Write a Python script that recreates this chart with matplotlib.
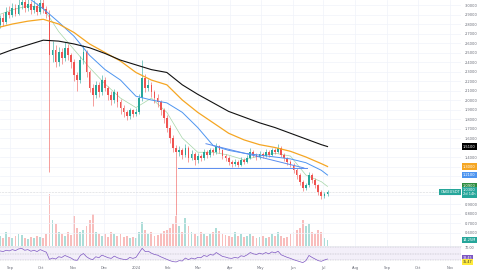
import numpy as np
import pandas as pd
import matplotlib
matplotlib.use('agg')
import matplotlib.pyplot as plt
import matplotlib.dates as mdates
import matplotlib.transforms as mtrans
from matplotlib.ticker import FuncFormatter

# price candles (3-day bars)
first_open = 2.74
close = [2.79, 2.86, 2.82, 2.93, 2.90, 2.97, 2.91, 3.00, 3.03, 2.97,
         3.01, 2.95, 2.99, 2.93, 3.02, 2.96, 2.91, 2.47, 2.53, 2.40,
         2.51, 2.44, 2.55, 2.47, 2.40, 2.26, 2.21, 2.42, 2.51, 2.29,
         2.13, 2.05, 2.16, 2.08, 2.21, 2.13, 2.05, 2.00, 2.08, 1.98,
         1.92, 1.87, 1.83, 1.89, 1.85, 1.87, 2.02, 2.23, 2.13, 2.16,
         2.08, 2.02, 1.98, 1.89, 1.81, 1.71, 1.60, 1.50, 1.45, 1.47,
         1.42, 1.50, 1.39, 1.43, 1.37, 1.41, 1.39, 1.45, 1.42, 1.47,
         1.45, 1.52, 1.47, 1.41, 1.39, 1.35, 1.33, 1.35, 1.32, 1.37,
         1.35, 1.39, 1.45, 1.42, 1.40, 1.43, 1.41, 1.45, 1.42, 1.47,
         1.45, 1.50, 1.42, 1.39, 1.35, 1.32, 1.26, 1.21, 1.14, 1.07,
         1.10, 1.21, 1.16, 1.10, 1.03, 0.99, 1.01, 1.03]
high = [2.84, 2.90, 2.92, 2.98, 2.99, 3.02, 3.01, 3.06, 3.09, 3.08,
        3.07, 3.04, 3.05, 3.02, 3.08, 3.06, 2.99, 2.95, 2.62, 2.58,
        2.56, 2.55, 2.61, 2.59, 2.50, 2.43, 2.30, 2.46, 2.58, 2.53,
        2.32, 2.17, 2.20, 2.19, 2.26, 2.24, 2.15, 2.09, 2.12, 2.10,
        2.01, 1.95, 1.90, 1.92, 1.91, 1.92, 2.06, 2.42, 2.27, 2.22,
        2.19, 2.11, 2.06, 2.00, 1.92, 1.84, 1.74, 1.63, 1.53, 1.52,
        1.50, 1.54, 1.52, 1.47, 1.45, 1.44, 1.43, 1.48, 1.47, 1.50,
        1.49, 1.55, 1.53, 1.48, 1.43, 1.41, 1.37, 1.38, 1.37, 1.40,
        1.39, 1.42, 1.49, 1.47, 1.44, 1.46, 1.45, 1.48, 1.47, 1.50,
        1.49, 1.54, 1.52, 1.44, 1.40, 1.37, 1.34, 1.28, 1.23, 1.16,
        1.13, 1.24, 1.23, 1.18, 1.12, 1.05, 1.03, 1.05]
low = [2.70, 2.76, 2.78, 2.80, 2.86, 2.87, 2.88, 2.89, 2.96, 2.93,
       2.94, 2.91, 2.92, 2.89, 2.91, 2.92, 2.86, 1.24, 2.40, 2.35,
       2.36, 2.38, 2.41, 2.42, 2.34, 2.20, 2.10, 2.18, 2.38, 2.24,
       2.08, 1.94, 2.02, 2.03, 2.05, 2.09, 2.00, 1.95, 1.97, 1.93,
       1.85, 1.82, 1.79, 1.80, 1.82, 1.83, 1.85, 1.99, 2.08, 2.09,
       2.03, 1.97, 1.93, 1.84, 1.76, 1.66, 1.55, 1.45, 0.79, 1.41,
       1.38, 1.40, 1.35, 1.37, 1.32, 1.34, 1.36, 1.37, 1.39, 1.40,
       1.42, 1.43, 1.44, 1.38, 1.36, 1.32, 1.30, 1.31, 1.30, 1.31,
       1.33, 1.34, 1.38, 1.40, 1.37, 1.38, 1.39, 1.40, 1.40, 1.41,
       1.43, 1.44, 1.40, 1.36, 1.32, 1.29, 1.23, 1.17, 1.10, 1.04,
       1.05, 1.08, 1.13, 1.07, 1.00, 0.96, 0.97, 0.99]
volume = [12, 10, 8, 14, 9, 8, 10, 12, 11, 8, 7, 9, 8, 10, 9, 8, 12, 52, 26, 22,
          14, 12, 10, 14, 11, 30, 18, 14, 16, 20, 26, 32, 14, 12, 10, 12, 9, 14, 12, 10,
          12, 9, 10, 8, 9, 8, 14, 24, 16, 12, 14, 10, 11, 13, 15, 16, 18, 22, 30, 20,
          14, 28, 20, 14, 12, 10, 14, 12, 10, 12, 14, 18, 15, 12, 11, 10, 9, 14, 10, 12,
          9, 10, 12, 10, 8, 9, 10, 8, 9, 12, 10, 14, 10, 8, 9, 12, 14, 16, 18, 26,
          20, 22, 14, 12, 16, 14, 8, 6]
rsi = [55, 58, 56, 60, 58, 62, 59, 64, 66, 60, 62, 57, 60, 56, 62, 58, 54, 32, 36, 33,
       40, 38, 44, 40, 36, 30, 29, 44, 50, 40, 34, 31, 40, 37, 45, 41, 37, 35, 42, 37,
       34, 32, 31, 38, 35, 38, 52, 66, 56, 57, 51, 47, 45, 40, 36, 32, 28, 25, 24, 28,
       27, 36, 31, 36, 33, 38, 37, 44, 41, 47, 45, 53, 47, 41, 39, 36, 35, 38, 36, 43,
       41, 46, 53, 49, 47, 51, 48, 53, 49, 55, 52, 57, 46, 42, 38, 35, 31, 28, 25, 22,
       28, 44, 38, 33, 28, 26, 30, 33]

# moving averages sampled every 5th bar plus the last bar
ema200 = [2.47, 2.53, 2.58, 2.63, 2.62, 2.59, 2.55, 2.49, 2.42, 2.37, 2.32, 2.29,
          2.16, 2.06, 1.97, 1.88, 1.82, 1.76, 1.71, 1.65, 1.59, 1.53, 1.51]
ema100 = [2.76, 2.80, 2.83, 2.85, 2.80, 2.71, 2.59, 2.50, 2.41, 2.29, 2.21, 2.16,
          2.00, 1.87, 1.76, 1.65, 1.58, 1.53, 1.50, 1.46, 1.40, 1.33, 1.30]
ema50 = [3.26, 3.18, 3.08, 2.96, 2.82, 2.67, 2.47, 2.32, 2.21, 2.04, 2.00, 1.97,
         1.87, 1.71, 1.52, 1.47, 1.44, 1.42, 1.40, 1.38, 1.34, 1.26, 1.21]
ema20 = [2.89, 2.95, 2.99, 2.97, 2.72, 2.53, 2.34, 2.17, 2.02, 1.92, 2.02, 1.87,
         1.60, 1.45, 1.45, 1.42, 1.37, 1.41, 1.44, 1.41, 1.21, 1.14, 1.09]

tri_upper = [1.54, 1.285]
tri_base = [1.285, 1.285]

price_ticks = np.arange(0.6, 3.05, 0.1)

UP = '#26a69a'
DOWN = '#ef5350'

dates = pd.date_range('2023-08-19', periods=len(close), freq='3D')
ma_idx = list(range(0, len(close), 5)) + [len(close) - 1]
ma_dates = dates[ma_idx]
opens = np.r_[first_open, close[:-1]]
close = np.array(close)
up = close >= opens
cols = np.where(up, UP, DOWN)

fig = plt.figure(figsize=(4.8, 2.7), dpi=100)
W = 461 / 480
vax = fig.add_axes([0, 1 - 246 / 270, W, 246 / 270])
ax = fig.add_axes([0, 1 - 246 / 270, W, 246 / 270], sharex=vax)
rax = fig.add_axes([0, 1 - 264 / 270, W, 18 / 270], sharex=vax)
ax.patch.set_visible(False)

x0 = pd.Timestamp('2023-08-22')
x1 = x0 + pd.Timedelta(days=447.6)

# volume
vax.bar(dates, volume, width=1.8, color=cols, alpha=0.38, linewidth=0)
vax.set_ylim(0, max(volume) * 246 / 52)
vax.set_yticks([])
for s in vax.spines.values():
    s.set_visible(False)
vax.tick_params(axis='x', length=0, labelbottom=False)
vax.xaxis.set_major_locator(mdates.MonthLocator())
vax.grid(axis='x', color='#f0f3fa', lw=0.5)

# candles
ax.vlines(dates, low, high, colors=cols, lw=0.4, zorder=3)
body_lo = np.minimum(opens, close)
body_h = np.maximum(np.abs(close - opens), 0.006)
ax.bar(dates, body_h, bottom=body_lo, width=1.7, color=cols, linewidth=0, zorder=3)

ax.plot(ma_dates, ema20, color='#a5d6a7', lw=0.5, zorder=2)
ax.plot(ma_dates, ema50, color='#4e95f0', lw=0.7, zorder=4)
ax.plot(ma_dates, ema100, color='#f5a623', lw=0.9, zorder=4)
ax.plot(ma_dates, ema200, color='#111111', lw=0.8, zorder=4)

tl_upper = [pd.Timestamp('2024-03-09'), pd.Timestamp('2024-06-12')]
tl_base = [pd.Timestamp('2024-02-11'), pd.Timestamp('2024-06-15')]
ax.plot(tl_upper, tri_upper, color='#5b8def', lw=0.7, zorder=5)
ax.plot(tl_base, tri_base, color='#5b8def', lw=0.7, zorder=5)

ax.axhline(close[-1], color='#b2b5be', lw=0.4, ls=':', zorder=1)

# right-axis tags
tags = [(ema200[-1], '%.4f' % ema200[-1], '#000000', 'white'),
        (ema100[-1], '%.4f' % ema100[-1], '#f5a623', 'white'),
        (ema50[-1], '%.4f' % ema50[-1], '#4e95f0', 'white'),
        (ema20[-1], '%.4f' % ema20[-1], '#2e8b3e', 'white'),
        (close[-1], '%.4f\n2d 14h' % close[-1], UP, 'white')]

# tick labels hidden behind the tags, as on the reference
shown_ticks = [t for t in price_ticks
               if all(abs(t - tv) > 0.045 for tv, _, _, _ in tags) and abs(t - 1.0) > 0.05]

ax.set_xlim(x0, x1)
ax.set_ylim(0.463, 3.053)
ax.yaxis.tick_right()
ax.set_yticks(shown_ticks)
ax.yaxis.set_major_formatter(FuncFormatter(lambda v, p: '%.4f' % v))
ax.tick_params(axis='y', labelsize=2.6, length=0, pad=2.5, colors='#6a6d78')
ax.tick_params(axis='x', length=0, labelbottom=False)
for t in price_ticks:
    ax.axhline(t, color='#f0f3fa', lw=0.5, zorder=0)
for s in ax.spines.values():
    s.set_visible(False)

tr = mtrans.blended_transform_factory(ax.transAxes, ax.transData)
for yv, txt, bg, fg in tags:
    ax.text(1.004, yv, txt, transform=tr, fontsize=2.6, color=fg, va='center', ha='left',
            bbox=dict(boxstyle='square,pad=0.35', fc=bg, ec='none'), zorder=6, clip_on=False)
ax.text(0.998, close[-1], 'CAKEUSDT', transform=tr, fontsize=2.6, color='white', va='center',
        ha='right', bbox=dict(boxstyle='square,pad=0.35', fc=UP, ec='none'), clip_on=False)
vtr = mtrans.blended_transform_factory(vax.transAxes, vax.transData)
vax.text(1.004, volume[-1], '14.25M', transform=vtr, fontsize=2.6, color='white',
         va='center', ha='left', bbox=dict(boxstyle='square,pad=0.35', fc=UP, ec='none'),
         clip_on=False)

# RSI pane
rax.axhspan(30, 70, color='#7e57c2', alpha=0.09, lw=0)
for lv in (70, 50, 30):
    rax.axhline(lv, color='#9598a1', lw=0.3, ls=(0, (2, 2)))
rax.plot(dates, rsi, color='#7e57c2', lw=0.5)
rax.set_ylim(17.7, 73.1)
rax.set_xlim(x0, x1)
rax.yaxis.tick_right()
rax.set_yticks([70])
rax.yaxis.set_major_formatter(FuncFormatter(lambda v, p: '%.2f' % v))
rax.tick_params(axis='y', labelsize=2.4, length=0, pad=2.5, colors='#6a6d78')
rtr = mtrans.blended_transform_factory(rax.transAxes, rax.transData)
rax.text(1.004, rsi[-1] + 3, '%.2f' % (rsi[-1] + 0.45), transform=rtr, fontsize=2.4, color='white',
         va='center', ha='left', bbox=dict(boxstyle='square,pad=0.3', fc='#7e57c2', ec='none'),
         clip_on=False)
rax.text(1.004, rsi[-1] - 9, '35.47', transform=rtr, fontsize=2.4, color='#333333',
         va='center', ha='left', bbox=dict(boxstyle='square,pad=0.3', fc='#ffeb3b', ec='none'),
         clip_on=False)
for s in rax.spines.values():
    s.set_visible(False)
rax.spines['top'].set_visible(True)
rax.spines['top'].set_color('#e0e3eb')
rax.spines['top'].set_linewidth(0.4)
rax.xaxis.set_major_locator(mdates.MonthLocator())
rax.xaxis.set_major_formatter(FuncFormatter(
    lambda v, p: mdates.num2date(v).strftime('%Y') if mdates.num2date(v).month == 1
    else mdates.num2date(v).strftime('%b')))
rax.tick_params(axis='x', labelsize=2.6, length=0, pad=1.5, colors='#6a6d78')

fig.savefig('out.png', dpi=100, facecolor='white')
